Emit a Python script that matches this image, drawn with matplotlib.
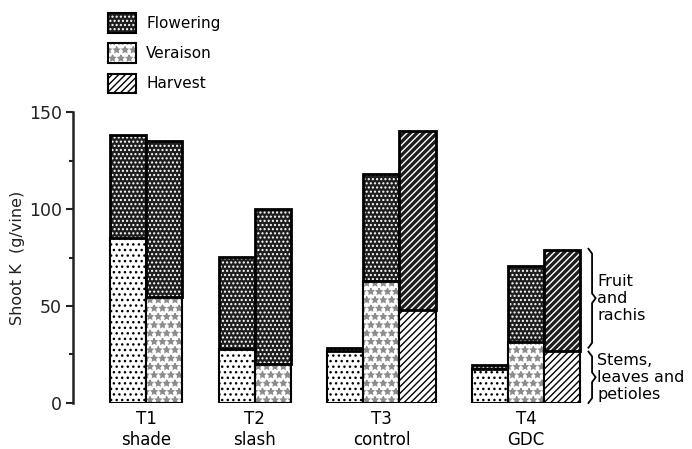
import numpy as np
import matplotlib
matplotlib.use('Agg')
import matplotlib.pyplot as plt
from matplotlib.patches import Patch
from matplotlib.legend_handler import HandlerTuple

plt.rcParams['font.family'] = ['DejaVu Sans']
plt.rcParams['hatch.linewidth'] = 1.0

groups = ['T1\nshade', 'T2\nslash', 'T3\ncontrol', 'T4\nGDC']
stages = ['Flowering', 'Veraison', 'Harvest']

# stems, leaves and petioles (bottom) and total shoot K (top of bar), g/vine
flowering_stems = [85, 28, 27, 17.5]
flowering_total = [138, 75.5, 28.5, 19.5]
veraison_stems = [54.5, 20, 63, 31.5]
veraison_total = [135, 100, 118, 70.5]
harvest_stems = [np.nan, np.nan, 48, 27]
harvest_total = [np.nan, np.nan, 140, 79]

stems = [flowering_stems, veraison_stems, harvest_stems]
totals = [flowering_total, veraison_total, harvest_total]

group_start = [0, 3, 6, 10]
light_hatch = ['...', '**', '/////']
light_ink = ['black', '#8c8c8c', 'black']
dark_hatch = ['....', '....', '/////']
dark = '#1e1e1e'

fig = plt.figure(figsize=(6.92, 4.49), dpi=100)
ax = fig.add_axes([0.1055, 0.1025, 0.7595, 0.648])

for s in range(3):
    for g in range(4):
        lo = stems[s][g]
        hi = totals[s][g]
        if np.isnan(lo):
            continue
        x = group_start[g] + s
        ax.bar(x, lo, width=1, color='white', edgecolor=light_ink[s], hatch=light_hatch[s], lw=0)
        ax.bar(x, lo, width=1, fill=False, edgecolor='black', lw=1.5)
        ax.bar(x, hi - lo, bottom=lo, width=1, color=dark, edgecolor='white', hatch=dark_hatch[s], lw=0)
        ax.bar(x, hi - lo, bottom=lo, width=1, fill=False, edgecolor='black', lw=2)

# group labels
centers = []
for g in range(4):
    n = sum(1 for s in range(3) if not np.isnan(stems[s][g]))
    centers.append(group_start[g] + (n - 1) / 2)
ax.set_xticks(centers)
ax.set_xticklabels(groups, fontsize=12, linespacing=1.25)
ax.tick_params(axis='x', length=0, pad=5)

ax.set_xlim(-1.52, 13)
ax.set_ylim(0, 150)
ax.set_yticks([0, 50, 100, 150])
ax.set_yticks([25, 75, 125], minor=True)
ax.tick_params(axis='y', which='major', length=5, width=1.5, labelsize=12.5, pad=3, colors='#222222')
ax.tick_params(axis='y', which='minor', length=3, width=1.5, colors='#222222')
ax.set_ylabel('Shoot K  (g/vine)', fontsize=11.5, color='#222222')
ax.yaxis.set_label_coords(-0.092, 0.5)

for sp in ['top', 'right', 'bottom']:
    ax.spines[sp].set_visible(False)
ax.spines['left'].set_linewidth(1.8)
ax.spines['left'].set_color('#222222')

# braces on the right
def brace(y0, y1, x0=12.82, w=0.1, d=2.5):
    ym = (y0 + y1) / 2
    xs = [x0 - w, x0, x0, x0 + w, x0, x0, x0 - w]
    ys = [y1, y1 - d, ym + d, ym, ym - d, y0 + d, y0]
    ax.plot(xs, ys, color='black', lw=1.3, clip_on=False)
    return ym

ym = brace(28.5, 79.5)
ax.text(12.96, ym, 'Fruit\nand\nrachis', fontsize=11.5, va='center', ha='left', linespacing=1.15)
ym = brace(0, 26.5)
ax.text(12.96, ym, 'Stems,\nleaves and\npetioles', fontsize=11.5, va='center', ha='left', linespacing=1.15)

# legend
outline = Patch(fill=False, edgecolor='black', lw=1.5)
handles = [
    (Patch(facecolor=dark, edgecolor='white', hatch='....', lw=0), outline),
    (Patch(facecolor='white', edgecolor='#8c8c8c', hatch='**', lw=0), outline),
    Patch(facecolor='white', edgecolor='black', hatch='/////', lw=1.5),
]
fig.legend(handles, stages, loc='upper left', bbox_to_anchor=(108 / 692, 1 - 13 / 449),
           frameon=False, fontsize=11, handlelength=1.8, handleheight=1.6,
           labelspacing=0.7, handletextpad=0.7, borderpad=0, borderaxespad=0,
           handler_map={tuple: HandlerTuple(ndivide=1, pad=0)})

plt.savefig('out.png', dpi=100)
